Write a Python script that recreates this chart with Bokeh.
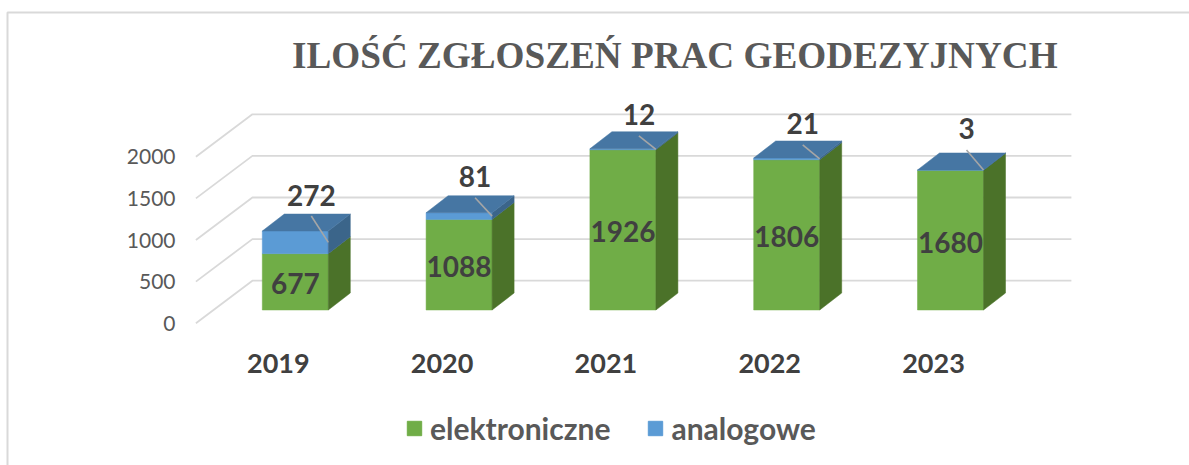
from bokeh.plotting import figure
from bokeh.models import Range1d, LinearAxis, FixedTicker, Legend, LegendItem
from bokeh.core.properties import value
from bokeh.embed import file_html
from bokeh.resources import INLINE

years = ["2019", "2020", "2021", "2022", "2023"]
elektroniczne = [677, 1088, 1926, 1806, 1680]
analogowe = [272, 81, 12, 21, 3]
y_ticks = [0, 500, 1000, 1500, 2000]
title_text = "ILOŚĆ ZGŁOSZEŃ PRAC GEODEZYJNYCH"
label_lift = [36, 36, 34, 34, 41]  # px above bar top for outer labels

GREEN, GREEN_SIDE = "#70AD47", "#4B7229"
BLUE, BLUE_TOP, BLUE_SIDE = "#5B9BD5", "#4676A3", "#3B658A"

W, H = 1189, 465
PX_CAT, PX_VAL = 163.8, 41.6 / 500
CAT0_X, VAL0_Y = 277.8, 322.7      # canvas px of category 0 / value 0

def dx(px):  # canvas px -> x data
    return (px - CAT0_X) / PX_CAT
def dy(px):  # canvas px -> y data
    return (VAL0_Y - px) / PX_VAL

p = figure(width=W, height=H, output_backend="svg", toolbar_location=None,
           x_range=Range1d(dx(0), dx(W)), y_range=Range1d(dy(H), dy(0)),
           x_axis_type=None, y_axis_type=None,
           min_border_left=0, min_border_right=0, min_border_top=0, min_border_bottom=0)
p.outline_line_color = None
p.grid.visible = False

# chart border (top and left edges are the ones visible in the window)
p.line([dx(7), dx(7), dx(W)], [dy(H), dy(12), dy(12)], line_color="#D9D9D9", line_width=2)

# depth of the 3D wall and of the bars, in data units
WALL_DX, WALL_DY = 56.5 / PX_CAT, 42.5 / PX_VAL
BAR_SHIFT_X, BAR_SHIFT_Y = 17.0 / PX_CAT, 13.2 / PX_VAL
BAR_HALF = 33.0 / PX_CAT
BAR_DX, BAR_DY = 22.0 / PX_CAT, 17.0 / PX_VAL
X0, X1 = -0.5 - 0.5 / PX_CAT, 4.5 - 0.5 / PX_CAT

# gridlines
for t in y_ticks:
    p.line([X0, X0 + WALL_DX, X1 + WALL_DX],
           [t, t + WALL_DY, t + WALL_DY], line_color="#D9D9D9", line_width=1.8)

# bars
def box(i, lo, hi, front, side, top):
    cx = i + BAR_SHIFT_X
    l, r = cx - BAR_HALF, cx + BAR_HALF
    b, t = lo + BAR_SHIFT_Y, hi + BAR_SHIFT_Y
    p.patch([l, r, r, l], [b, b, t, t], fill_color=front, line_color=front, line_width=0.5)
    p.patch([r, r + BAR_DX, r + BAR_DX, r], [b, b + BAR_DY, t + BAR_DY, t],
            fill_color=side, line_color=side, line_width=0.5)
    if top:
        p.patch([l, r, r + BAR_DX, l + BAR_DX], [t, t, t + BAR_DY, t + BAR_DY],
                fill_color=top, line_color=top, line_width=0.5)

for i, (e, a) in enumerate(zip(elektroniczne, analogowe)):
    box(i, 0, e, GREEN, GREEN_SIDE, None)
    box(i, e, e + a, BLUE, BLUE_SIDE, BLUE_TOP)

# inner labels
font = value("Lato")
p.text([i + BAR_SHIFT_X for i in range(5)],
       [e / 2 + BAR_SHIFT_Y - 2 / PX_VAL for e in elektroniczne],
       text=[str(e) for e in elektroniczne], text_font=font, text_font_style="bold",
       text_font_size="28px", text_color="#404040", text_align="center", text_baseline="middle")

# outer labels with leader lines
lab_x = [i + BAR_SHIFT_X + 16 / PX_CAT for i in range(5)]
lab_y = [e + a + BAR_SHIFT_Y + d / PX_VAL for e, a, d in zip(elektroniczne, analogowe, label_lift)]
for x, y, i, e, a in zip(lab_x, lab_y, range(5), elektroniczne, analogowe):
    p.line([x, i + BAR_SHIFT_X + BAR_HALF],
           [y - 21 / PX_VAL, e + a / 2 + BAR_SHIFT_Y], line_color="#A6A6A6", line_width=1.6)
p.text(lab_x, lab_y, text=[str(a) for a in analogowe], text_font=font, text_font_style="bold",
       text_font_size="28px", text_color="#404040", text_align="center", text_baseline="middle")

# axes sit inside the full-canvas frame
yax = LinearAxis(ticker=FixedTicker(ticks=y_ticks), axis_line_color=None,
                 fixed_location=dx(189),
                 major_tick_line_color=None, minor_tick_line_color=None,
                 major_label_standoff=8, major_label_text_font="Lato",
                 major_label_text_font_size="21px", major_label_text_color="#595959")
p.add_layout(yax, "left")
xax = LinearAxis(ticker=FixedTicker(ticks=list(range(5))),
                 fixed_location=dy(330),
                 major_label_overrides={i: y for i, y in enumerate(years)},
                 axis_line_color=None, major_tick_line_color=None, minor_tick_line_color=None,
                 major_label_standoff=17, major_label_text_font="Lato",
                 major_label_text_font_style="bold", major_label_text_font_size="27px",
                 major_label_text_color="#404040")
p.add_layout(xax, "below")

# title
p.text([dx(291.5)], [dy(55)], text=[title_text], text_font=value("Liberation Serif"),
       text_font_style="bold", text_font_size="37.2px", text_color="#595959",
       text_align="left", text_baseline="middle")

# legend
g0 = p.quad(left=[0], right=[0], bottom=[0], top=[0], fill_color=GREEN, line_color=GREEN)
b0 = p.quad(left=[0], right=[0], bottom=[0], top=[0], fill_color=BLUE, line_color=BLUE)
leg = Legend(items=[LegendItem(label="elektroniczne", renderers=[g0]),
                    LegendItem(label="analogowe", renderers=[b0])],
             orientation="horizontal", location=(405, 19), border_line_color=None,
             background_fill_alpha=0, glyph_width=18, glyph_height=18, spacing=36,
             label_standoff=7, margin=0, padding=0,
             label_text_font="Lato", label_text_font_style="bold",
             label_text_font_size="30px", label_text_color="#595959")
p.add_layout(leg, "center")

open("out.html", "w").write(file_html(p, INLINE))
